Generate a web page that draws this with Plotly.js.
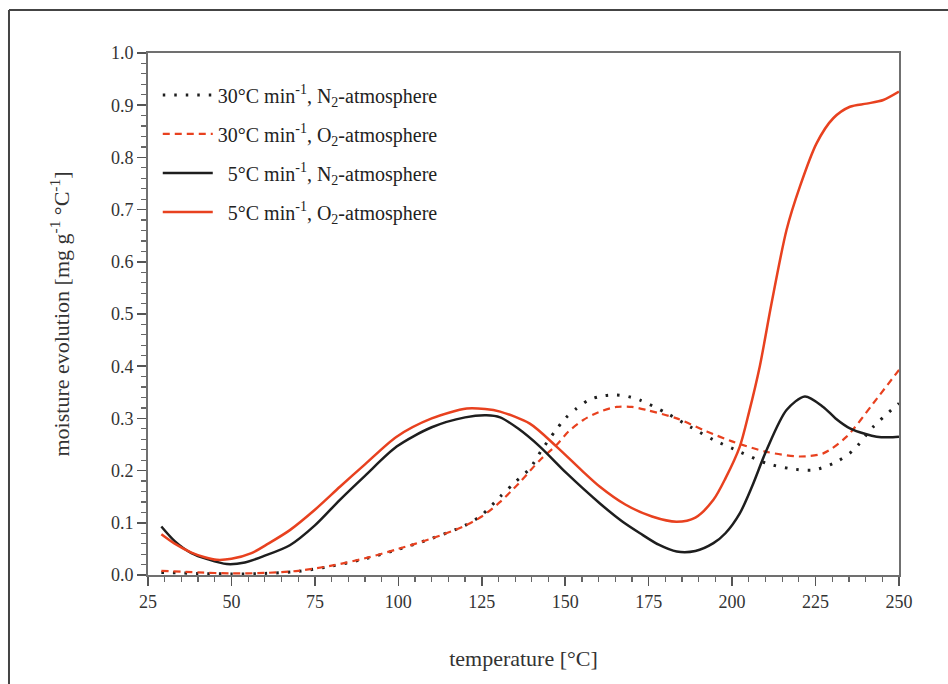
<!DOCTYPE html>
<html>
<head>
<meta charset="utf-8">
<script src="https://cdn.plot.ly/plotly-3.0.1.min.js"></script>
<style>
html,body{margin:0;padding:0;background:#fff;}
#chart{width:948px;height:684px;}
</style>
</head>
<body>
<div id="chart"></div>
<script>
// Legend labels
var seriesNames = [
  "30°C min<sup>-1</sup>, N<sub>2</sub>-atmosphere",
  "30°C min<sup>-1</sup>, O<sub>2</sub>-atmosphere",
  "&nbsp;&nbsp;5°C min<sup>-1</sup>, N<sub>2</sub>-atmosphere",
  "&nbsp;&nbsp;5°C min<sup>-1</sup>, O<sub>2</sub>-atmosphere"
];

// 30 °C/min, N2 (dotted black)
var t30N2 = [29, 40, 50, 60, 70, 80, 90, 100, 110, 120, 125, 130.5, 135, 139.4, 143, 146.9, 150, 153.4, 157, 160.4, 164.9, 168, 172.4, 180.4, 187.4, 194.4, 202.3, 210.3, 217.3, 224.3, 231.3, 236.3, 242.3, 250];
var v30N2 = [0.005, 0.003, 0.002, 0.003, 0.007, 0.017, 0.031, 0.049, 0.070, 0.095, 0.115, 0.150, 0.178, 0.204, 0.240, 0.275, 0.300, 0.319, 0.335, 0.342, 0.345, 0.343, 0.335, 0.310, 0.284, 0.259, 0.236, 0.214, 0.204, 0.201, 0.217, 0.239, 0.284, 0.329];

// 30 °C/min, O2 (dashed red)
var t30O2 = [29, 40, 50, 60, 70, 80, 90, 100, 110, 119.5, 125, 130.5, 136, 142.4, 147.4, 151, 155.4, 160, 165.4, 170, 174.4, 183.4, 192.4, 200.4, 210.3, 220.3, 227.3, 234.3, 242.3, 250];
var v30O2 = [0.008, 0.005, 0.003, 0.004, 0.008, 0.018, 0.032, 0.050, 0.070, 0.093, 0.112, 0.140, 0.175, 0.220, 0.249, 0.275, 0.297, 0.312, 0.322, 0.322, 0.316, 0.300, 0.275, 0.255, 0.236, 0.227, 0.233, 0.265, 0.329, 0.393];

// 5 °C/min, N2 (solid black)
var t5N2 = [29, 33, 38, 43, 48.6, 54, 60, 67.5, 75, 82.5, 90, 99.5, 110, 120, 126.4, 130.5, 136, 142.4, 150.4, 160.4, 167, 172.4, 178, 183.4, 189, 194.4, 198, 202.3, 206, 210.3, 216.3, 221.8, 227.3, 231, 235.3, 240, 243.3, 247, 250];
var v5N2 = [0.093, 0.065, 0.042, 0.030, 0.021, 0.024, 0.037, 0.057, 0.095, 0.144, 0.190, 0.246, 0.283, 0.302, 0.306, 0.302, 0.280, 0.246, 0.195, 0.137, 0.103, 0.080, 0.058, 0.045, 0.046, 0.061, 0.080, 0.118, 0.170, 0.239, 0.316, 0.342, 0.322, 0.300, 0.281, 0.270, 0.265, 0.264, 0.265];

// 5 °C/min, O2 (solid red)
var t5O2 = [29, 33, 38, 42, 45.6, 50, 56, 61, 67.5, 75, 82.5, 90, 99.5, 110, 120.5, 126, 130.5, 139.4, 147.4, 155, 160.4, 168, 176, 183.4, 189, 194.4, 198, 202.3, 205, 208.3, 211.8, 216.3, 220.3, 225.3, 230.3, 235.3, 240.3, 245.3, 250];
var v5O2 = [0.078, 0.060, 0.043, 0.034, 0.029, 0.031, 0.042, 0.060, 0.086, 0.125, 0.169, 0.212, 0.265, 0.300, 0.319, 0.318, 0.313, 0.290, 0.246, 0.200, 0.169, 0.135, 0.112, 0.102, 0.110, 0.144, 0.185, 0.246, 0.310, 0.400, 0.520, 0.661, 0.744, 0.827, 0.875, 0.897, 0.903, 0.910, 0.926];

var xTicks = [25, 50, 75, 100, 125, 150, 175, 200, 225, 250];
var yTicks = [0.0, 0.1, 0.2, 0.3, 0.4, 0.5, 0.6, 0.7, 0.8, 0.9, 1.0];

var RED = "#e8411f";
var BLK = "#1e1e1e";
var FONT = "Liberation Serif, Times New Roman, serif";

var traces = [
  {x: t30N2, y: v30N2, name: seriesNames[0], legendgroup: "a", mode: "lines",
   line: {color: BLK, width: 3, dash: "2.5px,9px", shape: "spline", smoothing: 0.8}},
  {x: t30O2, y: v30O2, name: seriesNames[1], legendgroup: "b", mode: "lines",
   line: {color: RED, width: 2.2, dash: "7px,5px", shape: "spline", smoothing: 0.8}},
  {x: t5N2, y: v5N2, name: seriesNames[2], legendgroup: "c", mode: "lines",
   line: {color: BLK, width: 2.5, shape: "spline", smoothing: 0.8}},
  {x: t5O2, y: v5O2, name: seriesNames[3], legendgroup: "d", mode: "lines",
   line: {color: RED, width: 2.5, shape: "spline", smoothing: 0.8}}
];

var layout = {
  width: 948, height: 684,
  margin: {l: 148, r: 49, t: 53, b: 109},
  paper_bgcolor: "#fff", plot_bgcolor: "#fff",
  font: {family: FONT, size: 18, color: "#333"},
  showlegend: true,
  legend: {
    x: 0.013, y: 0.957, xanchor: "left", yanchor: "top",
    bgcolor: "rgba(0,0,0,0)", borderwidth: 0,
    font: {family: FONT, size: 20, color: "#222"},
    traceorder: "grouped", tracegroupgap: 10, itemwidth: 50
  },
  xaxis: {
    range: [25, 250], tickmode: "array", tickvals: xTicks, ticktext: xTicks.map(String),
    showgrid: false, zeroline: false, showline: true, mirror: true,
    linecolor: "#707070", linewidth: 2,
    ticks: "outside", ticklen: 9, tickwidth: 1.5, tickcolor: "#555",
    minor: {dtick: 5, tick0: 25, ticks: "outside", ticklen: 5, tickwidth: 1.2, tickcolor: "#666", showgrid: false},
    tickfont: {family: FONT, size: 18, color: "#333"},
    title: {text: "temperature [°C]", font: {family: FONT, size: 22, color: "#333"}, standoff: 40}
  },
  yaxis: {
    range: [0, 1], tickmode: "array", tickvals: yTicks, ticktext: yTicks.map(function(v){return v.toFixed(1);}),
    showgrid: false, zeroline: false, showline: true, mirror: true,
    linecolor: "#707070", linewidth: 2,
    ticks: "outside", ticklen: 9, tickwidth: 1.5, tickcolor: "#555",
    minor: {dtick: 0.02, tick0: 0, ticks: "outside", ticklen: 5, tickwidth: 1.2, tickcolor: "#666", showgrid: false},
    tickfont: {family: FONT, size: 18, color: "#333"},
    title: {text: "moisture evolution [mg g<sup>-1</sup> °C<sup>-1</sup>]", font: {family: FONT, size: 22, color: "#333"}, standoff: 35}
  },
  shapes: [
    {type: "line", xref: "paper", yref: "paper", x0: -0.1851, x1: 1.07, y0: 1.0824, y1: 1.0824,
     line: {color: "#444", width: 2}},
    {type: "line", xref: "paper", yref: "paper", x0: -0.1851, x1: -0.1851, y0: 1.0824, y1: -0.215,
     line: {color: "#444", width: 2}}
  ]
};

Plotly.newPlot("chart", traces, layout, {staticPlot: true, displayModeBar: false});
</script>
</body>
</html>
